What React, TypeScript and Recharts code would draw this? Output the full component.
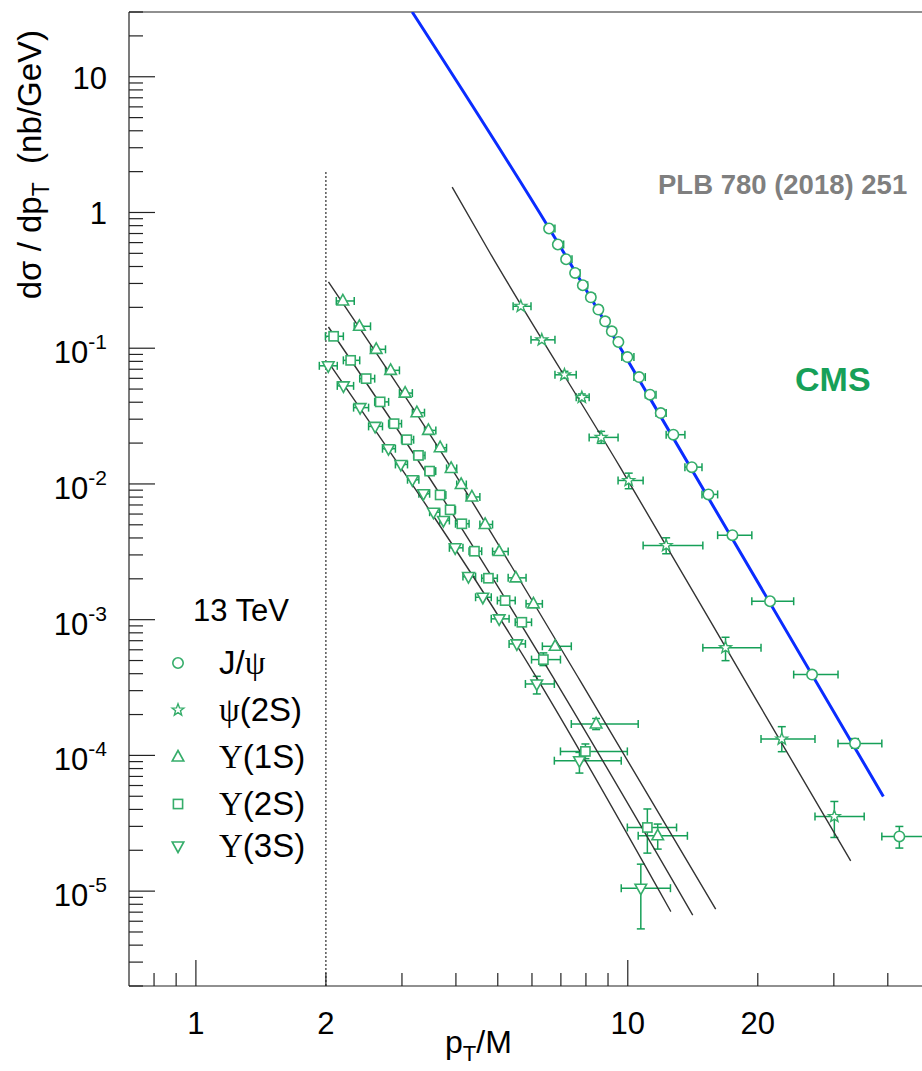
import React from 'react';
import { ComposedChart, XAxis, YAxis, Scatter, Line, ErrorBar, ReferenceLine } from 'recharts';

const FONT = 'Liberation Sans, Arial, Helvetica, sans-serif';
const SERIF = 'Liberation Serif, Times New Roman, serif';
const GREEN = '#16a058';
const MARK = '#35ad6a';
const AXIS = '#222';

// ---------- data (x = pT/M, y = dσ/dpT in nb/GeV) ----------
const jpsiX = [6.573, 6.887, 7.197, 7.551, 7.868, 8.212, 8.55, 8.862, 9.183, 9.511, 9.98, 10.62, 11.26, 11.92, 12.75, 14.07, 15.37, 17.47, 21.35, 26.71, 33.59, 42.54];
const jpsiY = [0.762, 0.581, 0.4524, 0.3585, 0.291, 0.2373, 0.1926, 0.1579, 0.1332, 0.1111, 0.0861, 0.0613, 0.0455, 0.03327, 0.02306, 0.0133, 0.00837, 0.004193, 0.001367, 3.94e-4, 1.226e-4, 2.53e-5];
const jpsiXLo = [6.458, 6.781, 7.104, 7.427, 7.749, 8.072, 8.395, 8.718, 9.041, 9.364, 9.687, 10.333, 10.978, 11.624, 12.27, 13.561, 14.853, 16.145, 19.374, 24.217, 30.675, 38.747];
const jpsiXHi = [6.781, 7.104, 7.427, 7.749, 8.072, 8.395, 8.718, 9.041, 9.364, 9.687, 10.333, 10.978, 11.624, 12.27, 13.561, 14.853, 16.145, 19.374, 24.217, 30.675, 38.747, 48.434];
const jpsiYLo = [null, null, null, null, null, null, null, null, null, null, null, null, null, null, null, null, null, null, null, null, 1.13e-4, 2.076e-5];
const jpsiYHi = [null, null, null, null, null, null, null, null, null, null, null, null, null, null, null, null, null, null, null, null, 1.33e-4, 2.996e-5];

const psi2X = [5.653, 6.323, 7.134, 7.827, 8.675, 10.05, 12.27, 16.84, 22.73, 30.08];
const psi2Y = [0.2037, 0.1153, 0.0637, 0.04345, 0.02203, 0.01061, 0.00352, 6.22e-4, 1.321e-4, 3.55e-5];
const psi2XLo = [5.426, 5.969, 6.782, 7.596, 8.139, 9.495, 10.852, 14.921, 20.347, 27.13];
const psi2XHi = [5.969, 6.782, 7.596, 8.139, 9.495, 10.852, 14.921, 20.347, 27.13, 35.269];
const psi2YLo = [null, null, 0.06, 0.041, 0.0199, 0.00922, 0.00306, 4.99e-4, 1.065e-4, 2.485e-5];
const psi2YHi = [null, null, 0.0676, 0.046, 0.0244, 0.01201, 0.00401, 7.42e-4, 1.628e-4, 4.577e-5];

const y1sX = [2.189, 2.391, 2.615, 2.824, 3.051, 3.248, 3.454, 3.677, 3.899, 4.113, 4.355, 4.674, 5.037, 5.504, 6.047, 6.788, 8.446, 11.73];
const y1sY = [0.2229, 0.145, 0.0981, 0.0687, 0.0467, 0.0335, 0.0248, 0.01849, 0.01301, 0.00991, 0.00802, 0.005027, 0.003178, 0.002033, 0.001308, 6.365e-4, 1.704e-4, 2.557e-5];
const y1sXLo = [2.114, 2.326, 2.537, 2.748, 2.96, 3.171, 3.383, 3.594, 3.805, 4.017, 4.228, 4.545, 4.863, 5.285, 5.814, 6.342, 7.4, 10.571];
const y1sXHi = [2.326, 2.537, 2.748, 2.96, 3.171, 3.383, 3.594, 3.805, 4.017, 4.228, 4.545, 4.863, 5.285, 5.814, 6.342, 7.4, 10.571, 13.742];
const y1sYLo = [null, null, null, null, null, null, null, null, null, null, null, null, null, null, null, null, 1.55e-4, 2.04e-5];
const y1sYHi = [null, null, null, null, null, null, null, null, null, null, null, null, null, null, null, null, 1.87e-4, 3.12e-5];

const y2sX = [2.084, 2.282, 2.479, 2.671, 2.877, 3.079, 3.276, 3.477, 3.677, 3.878, 4.128, 4.415, 4.757, 5.2, 5.684, 6.376, 7.978, 11.1];
const y2sY = [0.1224, 0.0814, 0.0597, 0.04024, 0.0278, 0.02118, 0.01623, 0.01243, 0.0083, 0.00645, 0.005088, 0.003194, 0.00202, 0.001383, 9.57e-4, 5.08e-4, 1.07e-4, 2.944e-5];
const y2sXLo = [1.995, 2.195, 2.395, 2.594, 2.794, 2.993, 3.193, 3.392, 3.592, 3.791, 3.991, 4.29, 4.589, 4.989, 5.487, 5.986, 6.984, 9.977];
const y2sXHi = [2.195, 2.395, 2.594, 2.794, 2.993, 3.193, 3.392, 3.592, 3.791, 3.991, 4.29, 4.589, 4.989, 5.487, 5.986, 6.984, 9.977, 12.97];
const y2sYLo = [null, null, null, null, null, null, null, null, null, null, null, null, null, null, null, 4.59e-4, 9.46e-5, 1.906e-5];
const y2sYHi = [null, null, null, null, null, null, null, null, null, null, null, null, null, null, null, 5.69e-4, 1.214e-4, 4.03e-5];

const y3sX = [2.025, 2.196, 2.4, 2.6, 2.792, 2.982, 3.172, 3.364, 3.548, 3.742, 3.984, 4.276, 4.617, 5.037, 5.535, 6.156, 7.727, 10.72];
const y3sY = [0.0742, 0.0528, 0.0365, 0.02655, 0.01818, 0.01392, 0.01074, 0.00847, 0.00619, 0.005381, 0.003384, 0.002078, 0.001463, 0.001014, 6.63e-4, 3.36e-4, 9.14e-5, 1.051e-5];
const y3sXLo = [1.931, 2.125, 2.318, 2.511, 2.704, 2.897, 3.09, 3.283, 3.477, 3.67, 3.863, 4.153, 4.442, 4.829, 5.311, 5.794, 6.76, 9.657];
const y3sXHi = [2.125, 2.318, 2.511, 2.704, 2.897, 3.09, 3.283, 3.477, 3.67, 3.863, 4.153, 4.442, 4.829, 5.311, 5.794, 6.76, 9.657, 12.554];
const y3sYLo = [null, null, null, null, null, null, null, null, null, null, null, null, null, null, null, 2.836e-4, 7.41e-5, 5.27e-6];
const y3sYHi = [null, null, null, null, null, null, null, null, null, null, null, null, null, null, null, 3.825e-4, 1.052e-4, 1.58e-5];

// fit curves
const fitJpsiX = [3.168, 6.573, 11.26, 39.06];
const fitJpsiY = [30, 0.766, 0.04271, 4.983e-5];
const fitPsi2X = [3.921, 4.757, 9.598, 19.89, 32.82];
const fitPsi2Y = [1.537, 0.527, 0.0133, 2.532e-4, 1.673e-5];
const fitY1sX = [2.027, 3.677, 7.755, 15.98];
const fitY1sY = [0.3078, 0.01766, 3.556e-4, 7.37e-6];
const fitY2sX = [2.027, 3.677, 6.788, 14.14];
const fitY2sY = [0.1433, 0.008368, 3.556e-4, 6.65e-6];
const fitY3sX = [2.027, 6.209, 12.58];
const fitY3sY = [0.0787, 3.556e-4, 7.07e-6];

// axes
const X_DOMAIN = [0.7, 48];
const Y_DOMAIN = [2e-6, 30];
const X_TICKS = [0.8, 0.9, 1, 2, 3, 4, 5, 6, 7, 8, 9, 10, 20, 30, 40];
const X_MAJOR = [1, 10];
const X_LABELS: Record<string, string> = { '1': '1', '2': '2', '10': '10', '20': '20' };
const Y_MAJOR = [1e-5, 1e-4, 1e-3, 1e-2, 1e-1, 1, 10];
const Y_LABELS = [
  { v: 10, base: '10', sup: '' },
  { v: 1, base: '1', sup: '' },
  { v: 1e-1, base: '10', sup: '-1' },
  { v: 1e-2, base: '10', sup: '-2' },
  { v: 1e-3, base: '10', sup: '-3' },
  { v: 1e-4, base: '10', sup: '-4' },
  { v: 1e-5, base: '10', sup: '-5' },
];
const Y_MINOR_MULT = [2, 3, 4, 5, 6, 7, 8, 9];
const Y_TICKS: number[] = [];
[1e-6, ...Y_MAJOR].forEach((d) => {
  if (d >= 1e-5) Y_TICKS.push(d);
  Y_MINOR_MULT.forEach((m) => {
    const v = +(d * m).toPrecision(3);
    if (v >= Y_DOMAIN[0] && v <= Y_DOMAIN[1]) Y_TICKS.push(v);
  });
});
Y_TICKS.sort((a, b) => a - b);

const build = (xs: number[], ys: number[], xl: number[], xh: number[], yl: (number | null)[], yh: (number | null)[]) =>
  xs.map((x, i) => ({
    x,
    y: ys[i],
    ex: [x - xl[i], xh[i] - x],
    ey: [yl[i] == null ? 0 : ys[i] - (yl[i] as number), yh[i] == null ? 0 : (yh[i] as number) - ys[i]],
  }));
const curve = (xs: number[], ys: number[]) => xs.map((x, i) => ({ x, y: ys[i] }));

const jpsiData = build(jpsiX, jpsiY, jpsiXLo, jpsiXHi, jpsiYLo, jpsiYHi);
const psi2Data = build(psi2X, psi2Y, psi2XLo, psi2XHi, psi2YLo, psi2YHi);
const y1sData = build(y1sX, y1sY, y1sXLo, y1sXHi, y1sYLo, y1sYHi);
const y2sData = build(y2sX, y2sY, y2sXLo, y2sXHi, y2sYLo, y2sYHi);
const y3sData = build(y3sX, y3sY, y3sXLo, y3sXHi, y3sYLo, y3sYHi);

type Kind = 'circle' | 'star' | 'tri' | 'square' | 'triDown';
const marker = (kind: Kind, cx: number, cy: number) => {
  const s = { fill: '#fff', stroke: MARK, strokeWidth: 1.6 };
  switch (kind) {
    case 'circle':
      return <circle cx={cx} cy={cy} r={5.2} {...s} />;
    case 'square':
      return <rect x={cx - 4.6} y={cy - 4.6} width={9.2} height={9.2} {...s} />;
    case 'tri':
      return <polygon points={`${cx},${cy - 6.5} ${cx + 5.8},${cy + 4} ${cx - 5.8},${cy + 4}`} {...s} />;
    case 'triDown':
      return <polygon points={`${cx},${cy + 6.5} ${cx + 5.8},${cy - 4} ${cx - 5.8},${cy - 4}`} {...s} />;
    case 'star': {
      const pts: string[] = [];
      for (let k = 0; k < 10; k++) {
        const r = k % 2 === 0 ? 6.2 : 2.6;
        const a = -Math.PI / 2 + (k * Math.PI) / 5;
        pts.push(`${cx + r * Math.cos(a)},${cy + r * Math.sin(a)}`);
      }
      return <polygon points={pts.join(' ')} {...s} strokeWidth={1.4} />;
    }
  }
  return null;
};
const shapeOf = (kind: Kind) => (p: any) => (p.cx == null || p.cy == null ? <g /> : marker(kind, p.cx, p.cy));

const XTick = (props: any) => {
  const { x, y, payload } = props;
  const v = payload.value;
  const len = X_MAJOR.includes(v) ? 26 : 13;
  const lab = X_LABELS[String(v)];
  return (
    <g>
      <line x1={x} x2={x} y1={y} y2={y - len} stroke={AXIS} strokeWidth={1.2} />
      {lab && (
        <text x={x} y={y + 48} textAnchor="middle" fontSize={31} fontFamily={FONT} fill="#000">
          {lab}
        </text>
      )}
    </g>
  );
};

const YTick = (props: any) => {
  const { x, y, payload } = props;
  const v = payload.value;
  const lab = Y_LABELS.find((l) => Math.abs(l.v - v) / l.v < 1e-6);
  const len = lab ? 26 : 14;
  return (
    <g>
      <line x1={x} x2={x + len} y1={y} y2={y} stroke={AXIS} strokeWidth={1.2} />
      {lab && (
        <text x={x - 22} y={y + (lab.sup ? 15 : 12)} textAnchor="end" fontSize={31} fontFamily={FONT} fill="#000">
          {lab.base}
          {lab.sup && (
            <tspan fontSize={21} dy={-14}>
              {lab.sup}
            </tspan>
          )}
        </text>
      )}
    </g>
  );
};

const errX = <ErrorBar dataKey="ex" direction="x" width={4} stroke={GREEN} strokeWidth={1.5} />;
const errY = <ErrorBar dataKey="ey" direction="y" width={4} stroke={GREEN} strokeWidth={1.5} />;

const LEGEND = [
  { kind: 'circle' as Kind, y: 663, pre: 'J/', greek: 'ψ', rest: '' },
  { kind: 'star' as Kind, y: 710, pre: '', greek: 'ψ', rest: '(2S)' },
  { kind: 'tri' as Kind, y: 757, pre: '', greek: 'Υ', rest: '(1S)' },
  { kind: 'square' as Kind, y: 804, pre: '', greek: 'Υ', rest: '(2S)' },
  { kind: 'triDown' as Kind, y: 846, pre: '', greek: 'Υ', rest: '(3S)' },
];

export default function App() {
  return (
    <div style={{ position: 'absolute', left: 0, top: 0, width: 922, height: 1071, background: '#fff', overflow: 'hidden' }}>
      <ComposedChart width={922} height={1071} margin={{ top: 12, right: 0, bottom: 0, left: 0 }}>
        <XAxis
          type="number"
          dataKey="x"
          scale="log"
          domain={X_DOMAIN}
          allowDataOverflow
          ticks={X_TICKS}
          interval={0}
          tick={<XTick />}
          tickLine={false}
          tickSize={0}
          tickMargin={0}
          height={85}
          axisLine={{ stroke: AXIS, strokeWidth: 1.2 }}
        />
        <YAxis
          type="number"
          dataKey="y"
          scale="log"
          domain={Y_DOMAIN}
          allowDataOverflow
          ticks={Y_TICKS}
          interval={0}
          tick={<YTick />}
          tickLine={false}
          tickSize={0}
          tickMargin={0}
          width={129}
          axisLine={{ stroke: AXIS, strokeWidth: 1.2 }}
        />
        <ReferenceLine y={30} stroke={AXIS} strokeWidth={1.2} />
        <ReferenceLine
          segment={[{ x: 2, y: 2e-6 }, { x: 2, y: 2 }]}
          stroke="#000"
          strokeWidth={1}
          strokeDasharray="2 2"
        />
        <Scatter data={jpsiData} shape={shapeOf('circle')} isAnimationActive={false}>
          {errX}
          {errY}
        </Scatter>
        <Scatter data={psi2Data} shape={shapeOf('star')} isAnimationActive={false}>
          {errX}
          {errY}
        </Scatter>
        <Scatter data={y1sData} shape={shapeOf('tri')} isAnimationActive={false}>
          {errX}
          {errY}
        </Scatter>
        <Scatter data={y2sData} shape={shapeOf('square')} isAnimationActive={false}>
          {errX}
          {errY}
        </Scatter>
        <Scatter data={y3sData} shape={shapeOf('triDown')} isAnimationActive={false}>
          {errX}
          {errY}
        </Scatter>
        <Line data={curve(fitPsi2X, fitPsi2Y)} dataKey="y" type="monotone" stroke="#333" strokeWidth={1.4} dot={false} activeDot={false} isAnimationActive={false} />
        <Line data={curve(fitY1sX, fitY1sY)} dataKey="y" type="monotone" stroke="#333" strokeWidth={1.4} dot={false} activeDot={false} isAnimationActive={false} />
        <Line data={curve(fitY2sX, fitY2sY)} dataKey="y" type="monotone" stroke="#333" strokeWidth={1.4} dot={false} activeDot={false} isAnimationActive={false} />
        <Line data={curve(fitY3sX, fitY3sY)} dataKey="y" type="monotone" stroke="#333" strokeWidth={1.4} dot={false} activeDot={false} isAnimationActive={false} />
        <Line data={curve(fitJpsiX, fitJpsiY)} dataKey="y" type="monotone" stroke="#0a2cff" strokeWidth={3} dot={false} activeDot={false} isAnimationActive={false} />
      </ComposedChart>
      <svg width={922} height={1071} style={{ position: 'absolute', left: 0, top: 0, pointerEvents: 'none' }}>
        <text
          transform="rotate(-90)"
          x={-30}
          y={41}
          textAnchor="end"
          fontSize={33}
          fontFamily={FONT}
          fill="#000"
          style={{ whiteSpace: 'pre' }}
        >
          {'dσ / dp'}
          <tspan fontSize={23} dy={8}>T</tspan>
          <tspan dy={-8}>{'  (nb/GeV)'}</tspan>
        </text>
        <text x={445} y={1053} fontSize={32} fontFamily={FONT} fill="#000">
          p<tspan fontSize={22} dy={8}>T</tspan>
          <tspan dy={-8}>/M</tspan>
        </text>
        <text x={658} y={194} fontSize={27.5} fontWeight="bold" fontFamily={FONT} fill="#7f7f7f">
          PLB 780 (2018) 251
        </text>
        <text x={795} y={391} fontSize={34} fontWeight="bold" fontFamily={FONT} fill={GREEN}>
          CMS
        </text>
        <text x={193} y={621} fontSize={31} fontFamily={FONT} fill="#000">
          13 TeV
        </text>
        {LEGEND.map((e) => (
          <g key={e.rest + e.greek + e.pre}>
            {marker(e.kind, 178, e.y)}
            <text x={219} y={e.y + 11} fontSize={33} fontFamily={FONT} fill="#000">
              {e.pre}
              <tspan fontFamily={SERIF}>{e.greek}</tspan>
              {e.rest}
            </text>
          </g>
        ))}
      </svg>
    </div>
  );
}
